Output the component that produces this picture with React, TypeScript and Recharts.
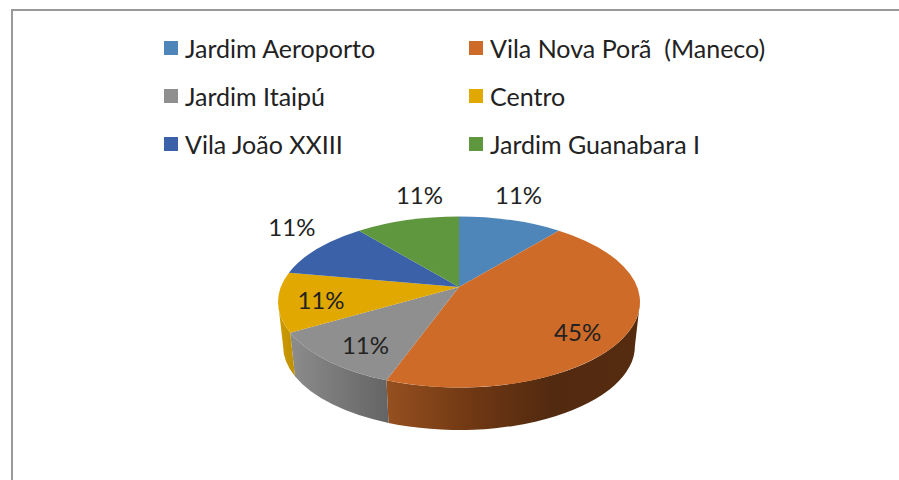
import { PieChart, Pie, Legend } from "recharts";

const names = ["Jardim Aeroporto", "Vila Nova Porã  (Maneco)", "Jardim Itaipú", "Centro", "Vila João XXIII", "Jardim Guanabara I"];
const values = [11.1, 44.5, 11.1, 11.1, 11.1, 11.1];
const colors = ["#4f86b9", "#cf6b28", "#8f8f8f", "#e0a800", "#3b62a9", "#5f973e"];
const labelShift = [[8, -26], [-50, -2], [38, -16], [43, -2], [-26, -22], [12, -26]];

const table = names.map((name, i) => ({ name, value: values[i], fill: colors[i] }));

const FONT = "Lato, sans-serif";
const SQUASH = 0.4724; // top ellipse height / width
const APEX_LIFT = 0.175; // the apex sits above the ellipse centre (perspective)
const DEPTH = 44;
const BOTTOM_RX = 0.972;
const BOTTOM_RY = 0.982;

// where a ray at a clockwise-from-top angle leaves the unit circle, starting from the lifted apex
const rimAngle = (deg: number) => {
  const a = (deg * Math.PI) / 180;
  const dx = Math.sin(a);
  const dy = -Math.cos(a);
  const pd = -APEX_LIFT * dy;
  const t = -pd + Math.sqrt(pd * pd - (APEX_LIFT * APEX_LIFT - 1));
  const x = dx * t;
  const y = -APEX_LIFT + dy * t;
  let phi = (Math.atan2(x, -y) * 180) / Math.PI;
  if (phi < -0.01) phi += 360;
  return phi;
};

const pt = (cx: number, cy: number, rx: number, ry: number, phi: number) => {
  const a = (phi * Math.PI) / 180;
  return [cx + rx * Math.sin(a), cy - ry * Math.cos(a)];
};

const sliceRange = (p: any) => {
  const start = rimAngle(90 - p.startAngle);
  let end = rimAngle(90 - p.endAngle);
  if (end <= start) end += 360;
  return [start, end];
};

const TopSlice = (p: any) => {
  const rx = p.outerRadius;
  const ry = rx * SQUASH;
  const [start, end] = sliceRange(p);
  const [x0, y0] = pt(p.cx, p.cy, rx, ry, start);
  const [x1, y1] = pt(p.cx, p.cy, rx, ry, end);
  const large = end - start > 180 ? 1 : 0;
  const d = `M${p.cx},${p.cy - ry * APEX_LIFT}L${x0},${y0}A${rx},${ry} 0 ${large} 1 ${x1},${y1}Z`;
  return <path d={d} fill={p.fill} />;
};

const WallSlice = (p: any) => {
  const rx = p.outerRadius;
  const ry = rx * SQUASH;
  const [start, end] = sliceRange(p);
  const a = Math.max(start, 90);
  const b = Math.min(end, 270);
  if (b <= a) return <g />;
  const rx2 = rx * BOTTOM_RX;
  const ry2 = ry * BOTTOM_RY;
  const cy2 = p.cy + DEPTH;
  const [x0, y0] = pt(p.cx, p.cy, rx, ry, a);
  const [x1, y1] = pt(p.cx, p.cy, rx, ry, b);
  const [x2, y2] = pt(p.cx, cy2, rx2, ry2, b);
  const [x3, y3] = pt(p.cx, cy2, rx2, ry2, a);
  const d = `M${x0},${y0}A${rx},${ry} 0 0 1 ${x1},${y1}L${x2},${y2}A${rx2},${ry2} 0 0 0 ${x3},${y3}Z`;
  return <path d={d} fill={`url(#wall${p.index})`} />;
};

const SliceLabel = (p: any) => {
  const rx = p.outerRadius;
  const ry = rx * SQUASH;
  const [x, y] = pt(p.cx, p.cy, rx, ry, rimAngle(90 - p.midAngle));
  const [dx, dy] = labelShift[p.index];
  return (
    <text x={x + dx} y={y + dy} fill="#222" fontFamily={FONT} fontSize={24} textAnchor="middle" dominantBaseline="central">
      {Math.round(values[p.index])}%
    </text>
  );
};

const LegendBlock = ({ payload }: any) => {
  const order = names.map((n) => (payload || []).find((e: any) => e.value === n)).filter(Boolean);
  return (
    <div style={{ display: "grid", gridTemplateColumns: "305px 305px", gridAutoRows: "48px", fontFamily: FONT, fontSize: 25, color: "#222" }}>
      {order.map((e: any) => (
        <div key={e.value} style={{ display: "flex", alignItems: "center", whiteSpace: "pre" }}>
          <span style={{ width: 14, height: 14, background: e.color, marginRight: 7, flex: "none" }} />
          {e.value}
        </div>
      ))}
    </div>
  );
};

export default function App() {
  return (
    <div style={{ position: "absolute", left: 0, top: 0, width: 899, height: 480, background: "#fff", overflow: "hidden" }}>
      <div style={{ position: "absolute", left: 11, top: 9, width: 900, height: 480, borderTop: "2px solid #999", borderLeft: "2px solid #999" }} />
      <PieChart width={899} height={480} margin={{ top: 0, right: 0, bottom: 0, left: 0 }} style={{ position: "absolute", left: 0, top: 0 }}>
        <defs>
          <linearGradient id="wall1" x1="0" y1="0" x2="1" y2="0">
            <stop offset="0%" stopColor="#96501f" />
            <stop offset="35%" stopColor="#6e3713" />
            <stop offset="65%" stopColor="#522a10" />
            <stop offset="100%" stopColor="#562c10" />
          </linearGradient>
          <linearGradient id="wall2" x1="0" y1="0" x2="1" y2="0">
            <stop offset="0%" stopColor="#8c8c8c" />
            <stop offset="100%" stopColor="#646464" />
          </linearGradient>
          <linearGradient id="wall3" x1="0" y1="0" x2="1" y2="0">
            <stop offset="0%" stopColor="#cc9a00" />
            <stop offset="100%" stopColor="#bf9000" />
          </linearGradient>
        </defs>
        <Legend
          content={<LegendBlock />}
          wrapperStyle={{ position: "absolute", left: 164, top: 24, width: 620 }}
        />
        <Pie
          data={table}
          dataKey="value"
          nameKey="name"
          cx={459}
          cy={302}
          outerRadius={181}
          startAngle={90}
          endAngle={-270}
          legendType="none"
          shape={WallSlice}
          stroke="none"
          isAnimationActive={false}
        />
        <Pie
          data={table}
          dataKey="value"
          nameKey="name"
          cx={459}
          cy={302}
          outerRadius={181}
          startAngle={90}
          endAngle={-270}
          shape={TopSlice}
          stroke="none"
          label={SliceLabel}
          labelLine={false}
          isAnimationActive={false}
        />
      </PieChart>
    </div>
  );
}
